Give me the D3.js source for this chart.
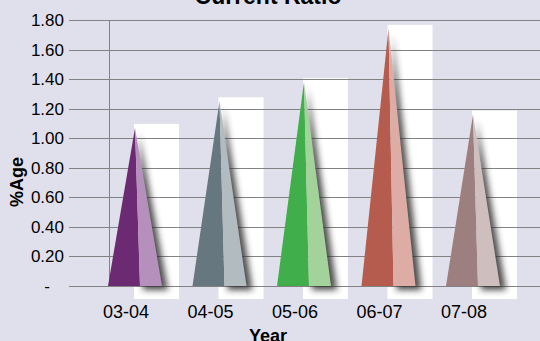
<!DOCTYPE html>
<html>
<head>
<meta charset="utf-8">
<script src="https://cdn.jsdelivr.net/npm/d3@7"></script>
<style>
  html, body { margin: 0; padding: 0; background: #e0e0ec; }
  svg { display: block; }
  text { font-family: "Liberation Sans", Arial, sans-serif; fill: #000; }
</style>
</head>
<body>
<svg id="chart" width="540" height="341"></svg>
<script>
// Current ratio by financial year
const years = ["03-04", "04-05", "05-06", "06-07", "07-08"];
const ratios = [1.07, 1.25, 1.38, 1.74, 1.16];
const yTicks = [0, 0.2, 0.4, 0.6, 0.8, 1.0, 1.2, 1.4, 1.6, 1.8];
const darkFaces = ["#6b2a71", "#66777f", "#3fae4b", "#b65c4e", "#9e7f80"];
const lightFaces = ["#b690bd", "#b1bbc0", "#a4d29b", "#dcaca5", "#cfbebe"];

const W = 540, H = 341;
const svg = d3.select("#chart");

const y = d3.scaleLinear().domain([0, 1.8]).range([286, 20]);
const x = d3.scalePoint().domain(years).range([135, 473]);

const defs = svg.append("defs");
defs.append("filter").attr("id", "soft")
  .attr("x", "-50%").attr("y", "-20%").attr("width", "200%").attr("height", "140%")
  .append("feGaussianBlur").attr("stdDeviation", 3);

// white panels behind each pyramid
svg.append("g").selectAll("rect").data(years).join("rect")
  .attr("x", d => x(d) - 1)
  .attr("y", (d, i) => y(ratios[i]) - 4)
  .attr("width", 45)
  .attr("height", (d, i) => 299 - (y(ratios[i]) - 4))
  .attr("fill", "#ffffff");

// gridlines
svg.append("g").selectAll("line").data(yTicks).join("line")
  .attr("x1", 69).attr("x2", W)
  .attr("y1", d => Math.round(y(d)) + 0.5).attr("y2", d => Math.round(y(d)) + 0.5)
  .attr("stroke", "#828282").attr("stroke-width", 1);

// vertical axis line
svg.append("line")
  .attr("x1", 109.5).attr("x2", 109.5)
  .attr("y1", y(1.8)).attr("y2", y(0))
  .attr("stroke", "#828282");

// y tick labels
svg.append("g").selectAll("text").data(yTicks).join("text")
  .attr("x", 64).attr("y", d => y(d) + 6)
  .attr("text-anchor", "end")
  .style("font-size", "17px")
  .style("white-space", "pre")
  .text(d => d === 0 ? "-   " : d3.format(".2f")(d));

// pyramids: shadow, dark face, light face
const base = y(0);
const g = svg.append("g");
years.forEach((yr, i) => {
  const cx = x(yr), top = y(ratios[i]);
  g.append("path")
    .attr("d", `M${cx + 4},${top + 6} L${cx + 33},${base + 4} L${cx + 8},${base + 4} Z`)
    .attr("fill", "#2e2e2e").attr("opacity", 0.85)
    .attr("filter", "url(#soft)");
  g.append("path")
    .attr("d", `M${cx},${top} L${cx + 5},${base} L${cx - 27},${base} Z`)
    .attr("fill", darkFaces[i]);
  g.append("path")
    .attr("d", `M${cx},${top} L${cx + 27},${base} L${cx + 5},${base} Z`)
    .attr("fill", lightFaces[i]);
});

// x category labels
svg.append("g").selectAll("text").data(years).join("text")
  .attr("x", d => x(d) - 9).attr("y", 318)
  .attr("text-anchor", "middle")
  .style("font-size", "18px")
  .text(d => d);

// titles
svg.append("text").attr("x", 268).attr("y", 4)
  .attr("text-anchor", "middle")
  .style("font-size", "23px").style("font-weight", "bold")
  .text("Current Ratio");
svg.append("text").attr("x", 268).attr("y", 342)
  .attr("text-anchor", "middle")
  .style("font-size", "18px").style("font-weight", "bold")
  .text("Year");
svg.append("text")
  .attr("transform", "translate(23,182) rotate(-90)")
  .attr("text-anchor", "middle")
  .style("font-size", "18px").style("font-weight", "bold")
  .text("%Age");
</script>
</body>
</html>
